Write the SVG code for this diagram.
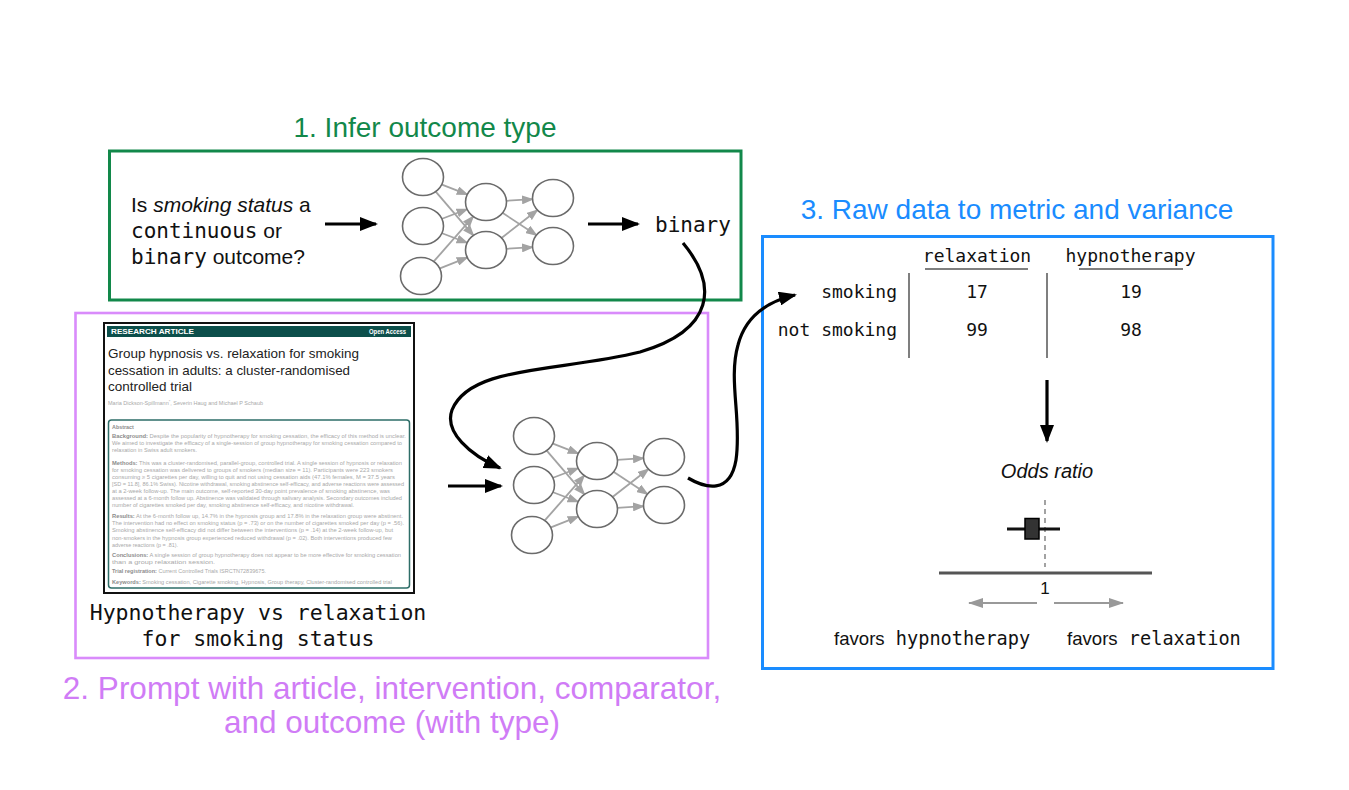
<svg xmlns="http://www.w3.org/2000/svg" width="1349" height="790" viewBox="0 0 1349 790">
<style>
.sans{font-family:"Liberation Sans",Arial,sans-serif}
.mono{font-family:"DejaVu Sans Mono","Liberation Mono",monospace}
.title{font-family:"Liberation Sans",Arial,sans-serif;font-size:28px;text-anchor:middle}
.nn ellipse{fill:#fff;stroke:#6b6b6b;stroke-width:1.6}
.nn path{fill:none;stroke:#a3a3a3;stroke-width:1.8;marker-end:url(#gh)}
.conn{fill:none;stroke:#000;stroke-width:3.2;marker-end:url(#ah)}
.garr{fill:none;stroke:#999;stroke-width:2;marker-end:url(#gah)}
.abs{font-family:"Liberation Sans",Arial,sans-serif;font-size:5.4px;fill:#a9a9a9}
.b{font-weight:bold;fill:#8c8c8c}
.tbl{font-family:"DejaVu Sans Mono","Liberation Mono",monospace;font-size:18px;fill:#111}
.rule{stroke:#555;stroke-width:1.5}
</style>
<defs>
<marker id="ah" viewBox="0 0 18 14" refX="16" refY="7" markerWidth="18" markerHeight="14" markerUnits="userSpaceOnUse" orient="auto"><path d="M0,0 L18,7 L0,14 z" fill="#000"/></marker>
<marker id="gh" viewBox="0 0 12 9" refX="11" refY="4.5" markerWidth="12" markerHeight="9" markerUnits="userSpaceOnUse" orient="auto"><path d="M0,0 L12,4.5 L0,9 z" fill="#a3a3a3"/></marker>
<marker id="gah" viewBox="0 0 15 10" refX="14" refY="5" markerWidth="15" markerHeight="10" markerUnits="userSpaceOnUse" orient="auto"><path d="M0,0 L15,5 L0,10 z" fill="#999"/></marker>
<g id="net" class="nn">
<path d="M441.3,184.3 L467.7,194.7"/>
<path d="M435.3,191.2 L473.7,235.8"/>
<path d="M441.4,219 L467.6,209"/>
<path d="M441.4,233 L467.6,243"/>
<path d="M433.4,261.9 L473.6,216.1"/>
<path d="M439.3,268.7 L467.7,257.3"/>
<path d="M506,200.8 L533,199.2"/>
<path d="M502.1,212.6 L536.9,235.4"/>
<path d="M501.2,238.2 L537.8,209.8"/>
<path d="M506,248.8 L533,247.2"/>
<ellipse cx="423" cy="177" rx="20.5" ry="18.5"/>
<ellipse cx="423" cy="226" rx="20.5" ry="18.5"/>
<ellipse cx="421" cy="276" rx="20.5" ry="18.5"/>
<ellipse cx="486" cy="202" rx="20.5" ry="18.5"/>
<ellipse cx="486" cy="250" rx="20.5" ry="18.5"/>
<ellipse cx="553" cy="198" rx="20.5" ry="18.5"/>
<ellipse cx="553" cy="246" rx="20.5" ry="18.5"/>
</g>
</defs>
<rect width="1349" height="790" fill="#fff"/>

<!-- Panel 1 -->
<g id="panel-infer">
<rect x="109.5" y="151" width="631.5" height="149" fill="none" stroke="#12884a" stroke-width="3"/>
<text class="title" x="425" y="137" fill="#12884a">1. Infer outcome type</text>
<text class="sans" x="131" y="212" font-size="21" fill="#111">Is <tspan font-style="italic">smoking status</tspan> a</text>
<text class="sans" x="131" y="238" font-size="21" fill="#111"><tspan class="mono">continuous</tspan> or</text>
<text class="sans" x="131" y="264" font-size="21" fill="#111"><tspan class="mono">binary</tspan> outcome?</text>
</g>
<g id="llm-1"><use href="#net"/></g>
<g id="output-binary"><text class="mono" x="655" y="232" font-size="21" fill="#111">binary</text></g>

<!-- Panel 2 -->
<g id="panel-prompt">
<rect x="75.5" y="313" width="632.5" height="345" fill="none" stroke="#d98bfb" stroke-width="2.6"/>
<text class="title" x="392" y="699" font-size="31.5" fill="#d07cf6" style="font-size:31.5px">2. Prompt with article, intervention, comparator,</text>
<text class="title" x="392" y="733" fill="#d07cf6" style="font-size:31.5px">and outcome (with type)</text>
<text class="mono" x="258" y="620" font-size="21.5" text-anchor="middle" fill="#111">Hypnotherapy vs relaxation</text>
<text class="mono" x="258" y="646" font-size="21.5" text-anchor="middle" fill="#111">for smoking status</text>
</g>
<g id="article">
<rect x="104" y="323" width="310" height="270" fill="#fff" stroke="#111" stroke-width="2"/>
<rect x="107" y="326" width="304" height="11" fill="#0c4f4b"/>
<text class="sans" x="111" y="334.3" font-size="7" font-weight="bold" fill="#fff" textLength="83" lengthAdjust="spacingAndGlyphs">RESEARCH ARTICLE</text>
<text class="sans" x="369" y="334.3" font-size="7" font-weight="bold" fill="#fff" textLength="37" lengthAdjust="spacingAndGlyphs">Open Access</text>
<text class="sans" x="108" y="358" font-size="13.5" fill="#222" textLength="251" lengthAdjust="spacingAndGlyphs">Group hypnosis vs. relaxation for smoking</text>
<text class="sans" x="108" y="374.5" font-size="13.5" fill="#222" textLength="242" lengthAdjust="spacingAndGlyphs">cessation in adults: a cluster-randomised</text>
<text class="sans" x="108" y="390.5" font-size="13.5" fill="#222" textLength="84" lengthAdjust="spacingAndGlyphs">controlled trial</text>
<text class="abs" x="108" y="405" font-size="6" textLength="155" lengthAdjust="spacingAndGlyphs">Maria Dickson-Spillmann<tspan dy="-2" font-size="4">*</tspan><tspan dy="2">, Severin Haug and Michael P Schaub</tspan></text>
<rect x="108.5" y="420" width="301" height="168" rx="3" fill="none" stroke="#2e6e68" stroke-width="1.5"/>
<text class="abs b" x="112" y="428.5">Abstract</text>
<text class="abs" x="112" y="437.5" textLength="294" lengthAdjust="spacingAndGlyphs"><tspan class="b">Background:</tspan> Despite the popularity of hypnotherapy for smoking cessation, the efficacy of this method is unclear.</text>
<text class="abs" x="112" y="444.5" textLength="290" lengthAdjust="spacingAndGlyphs">We aimed to investigate the efficacy of a single-session of group hypnotherapy for smoking cessation compared to</text>
<text class="abs" x="112" y="451.5" textLength="85" lengthAdjust="spacingAndGlyphs">relaxation in Swiss adult smokers.</text>
<text class="abs" x="112" y="465" textLength="290" lengthAdjust="spacingAndGlyphs"><tspan class="b">Methods:</tspan> This was a cluster-randomised, parallel-group, controlled trial. A single session of hypnosis or relaxation</text>
<text class="abs" x="112" y="472" textLength="281" lengthAdjust="spacingAndGlyphs">for smoking cessation was delivered to groups of smokers (median size = 11). Participants were 223 smokers</text>
<text class="abs" x="112" y="479" textLength="283" lengthAdjust="spacingAndGlyphs">consuming ≥ 5 cigarettes per day, willing to quit and not using cessation aids (47.1% females, M = 37.5 years</text>
<text class="abs" x="112" y="486" textLength="292" lengthAdjust="spacingAndGlyphs">[SD = 11.8], 86.1% Swiss). Nicotine withdrawal, smoking abstinence self-efficacy, and adverse reactions were assessed</text>
<text class="abs" x="112" y="493" textLength="278" lengthAdjust="spacingAndGlyphs">at a 2-week follow-up. The main outcome, self-reported 30-day point prevalence of smoking abstinence, was</text>
<text class="abs" x="112" y="500" textLength="290" lengthAdjust="spacingAndGlyphs">assessed at a 6-month follow up. Abstinence was validated through salivary analysis. Secondary outcomes included</text>
<text class="abs" x="112" y="507" textLength="242" lengthAdjust="spacingAndGlyphs">number of cigarettes smoked per day, smoking abstinence self-efficacy, and nicotine withdrawal.</text>
<text class="abs" x="112" y="518" textLength="291" lengthAdjust="spacingAndGlyphs"><tspan class="b">Results:</tspan> At the 6-month follow up, 14.7% in the hypnosis group and 17.8% in the relaxation group were abstinent.</text>
<text class="abs" x="112" y="525" textLength="292" lengthAdjust="spacingAndGlyphs">The intervention had no effect on smoking status (p = .73) or on the number of cigarettes smoked per day (p = .56).</text>
<text class="abs" x="112" y="532" textLength="281" lengthAdjust="spacingAndGlyphs">Smoking abstinence self-efficacy did not differ between the interventions (p = .14) at the 2-week follow-up, but</text>
<text class="abs" x="112" y="539.5" textLength="280" lengthAdjust="spacingAndGlyphs">non-smokers in the hypnosis group experienced reduced withdrawal (p = .02). Both interventions produced few</text>
<text class="abs" x="112" y="546.5" textLength="66" lengthAdjust="spacingAndGlyphs">adverse reactions (p = .81).</text>
<text class="abs" x="112" y="557" textLength="289" lengthAdjust="spacingAndGlyphs"><tspan class="b">Conclusions:</tspan> A single session of group hypnotherapy does not appear to be more effective for smoking cessation</text>
<text class="abs" x="112" y="564" textLength="103" lengthAdjust="spacingAndGlyphs">than a group relaxation session.</text>
<text class="abs" x="112" y="572.5" textLength="154" lengthAdjust="spacingAndGlyphs"><tspan class="b">Trial registration:</tspan> Current Controlled Trials ISRCTN72839675.</text>
<text class="abs" x="112" y="583.5" textLength="280" lengthAdjust="spacingAndGlyphs"><tspan class="b">Keywords:</tspan> Smoking cessation, Cigarette smoking, Hypnosis, Group therapy, Cluster-randomised controlled trial</text>
</g>
<g id="llm-2"><use href="#net" transform="translate(111,259)"/></g>

<!-- Panel 3 -->
<g id="panel-metric">
<rect x="762.5" y="236.5" width="510.5" height="432" fill="none" stroke="#1a8cff" stroke-width="3"/>
<text class="title" x="1017" y="219" fill="#1a8cff">3. Raw data to metric and variance</text>
</g>
<g id="table">
<text class="tbl" x="977" y="262" text-anchor="middle">relaxation</text>
<text class="tbl" x="1130.5" y="262" text-anchor="middle">hypnotherapy</text>
<line class="rule" x1="925" y1="269" x2="1028" y2="269"/>
<line class="rule" x1="1079" y1="269" x2="1183" y2="269"/>
<line class="rule" x1="909" y1="273" x2="909" y2="358"/>
<line class="rule" x1="1047" y1="273" x2="1047" y2="358"/>
<text class="tbl" x="897" y="298" text-anchor="end">smoking</text>
<text class="tbl" x="897" y="336" text-anchor="end">not smoking</text>
<text class="tbl" x="977" y="298" text-anchor="middle">17</text>
<text class="tbl" x="1131" y="298" text-anchor="middle">19</text>
<text class="tbl" x="977" y="336" text-anchor="middle">99</text>
<text class="tbl" x="1131" y="336" text-anchor="middle">98</text>
</g>
<g id="forest-plot">
<text class="sans" x="1047" y="478" font-size="20" font-style="italic" text-anchor="middle" fill="#111">Odds ratio</text>
<line x1="1045" y1="500" x2="1045" y2="567" stroke="#999" stroke-width="1.8" stroke-dasharray="5,4"/>
<line x1="1007" y1="529" x2="1060" y2="529" stroke="#111" stroke-width="3"/>
<rect x="1025" y="518.5" width="14" height="20.5" fill="#333" stroke="#000" stroke-width="1.5"/>
<line x1="939" y1="573" x2="1152" y2="573" stroke="#555" stroke-width="3.2"/>
<text class="sans" x="1045" y="594" font-size="17" text-anchor="middle" fill="#111">1</text>
<path class="garr" d="M1037,603 L969,603"/>
<path class="garr" d="M1054,603 L1123,603"/>
<text x="834" y="645" font-size="18.6" fill="#111"><tspan class="sans">favors</tspan><tspan class="mono"> hypnotherapy</tspan></text>
<text x="1067" y="645" font-size="18.6" fill="#111"><tspan class="sans">favors</tspan><tspan class="mono"> relaxation</tspan></text>
</g>

<!-- Connectors -->
<g id="connectors">
<path class="conn" d="M325,224 L376,224"/>
<path class="conn" d="M588,224 L638,224"/>
<path class="conn" d="M448,486 L501,486"/>
<path class="conn" d="M683,243 C718,285 715,330 640,352 C560,372 470,365 452,410 C444,432 470,455 500,468"/>
<path class="conn" d="M688,478 C705,488 730,495 736,460 C742,420 728,380 738,345 C745,318 765,302 795,295"/>
<path class="conn" d="M1047,380 L1047,441"/>
</g>
</svg>
